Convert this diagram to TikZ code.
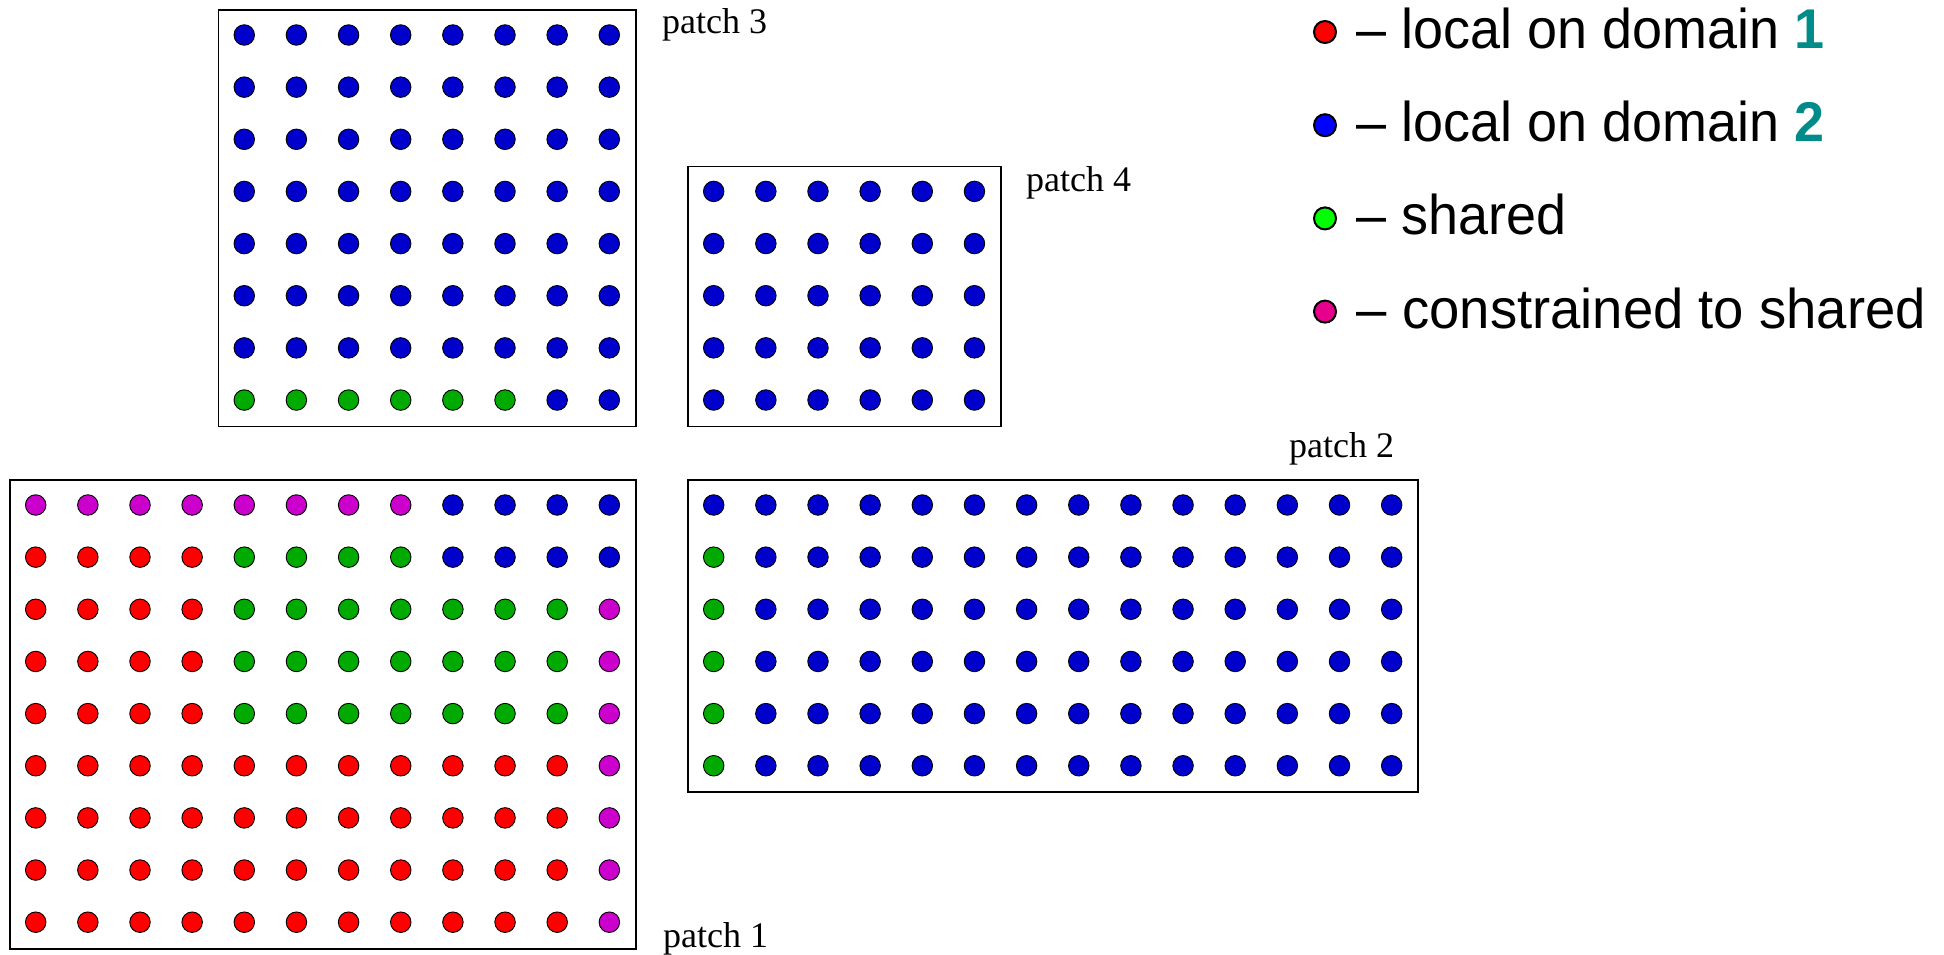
\documentclass[tikz,border=0pt]{standalone}
\usepackage{graphicx}
\usepackage{fontspec}
\setmainfont{Liberation Serif}
\setsansfont{Liberation Sans}
\definecolor{cR}{HTML}{FF0000}
\definecolor{cB}{HTML}{0000CC}
\definecolor{cG}{HTML}{00AA00}
\definecolor{cM}{HTML}{CC00CC}
\definecolor{lR}{HTML}{FF0000}
\definecolor{lB}{HTML}{0000FF}
\definecolor{lG}{HTML}{00FF00}
\definecolor{lM}{HTML}{E6008C}
\definecolor{numteal}{HTML}{008B8B}
\begin{document}
\begin{tikzpicture}[x=1pt,y=-1pt,
  dot/.style={circle,draw=black,line width=0.9pt,minimum size=20.5pt,inner sep=0pt},
  legdot/.style={circle,draw=black,line width=2pt,minimum size=22pt,inner sep=0pt},
  patchbox/.style={draw=black,line width=1.1pt},
  patchlabel/.style={anchor=base west,inner sep=0pt,font=\fontsize{36}{42}\selectfont},
  legtext/.style={anchor=base west,inner sep=0pt,font=\sffamily\fontsize{56}{64}\selectfont}]
\useasboundingbox (0,0) rectangle (1944,955);

% ---------- patch 1 ----------
\draw[patchbox] (10,480) rectangle (636,949);
\foreach \row [count=\j from 0] in {
  {M,M,M,M,M,M,M,M,B,B,B,B},
  {R,R,R,R,G,G,G,G,B,B,B,B},
  {R,R,R,R,G,G,G,G,G,G,G,M},
  {R,R,R,R,G,G,G,G,G,G,G,M},
  {R,R,R,R,G,G,G,G,G,G,G,M},
  {R,R,R,R,R,R,R,R,R,R,R,M},
  {R,R,R,R,R,R,R,R,R,R,R,M},
  {R,R,R,R,R,R,R,R,R,R,R,M},
  {R,R,R,R,R,R,R,R,R,R,R,M}}{
  \foreach \c [count=\i from 0] in \row {
    \node[dot,fill=c\c] (pa-\i-\j) at ({35.7+52.15*\i},{505+52.15*\j}) {};
  }
}
\node[patchlabel] (lab1) at (663,947) {patch 1};

% ---------- patch 2 ----------
\draw[patchbox] (688,480) rectangle (1418,792);
\foreach \j in {0,...,5}{
  \foreach \i in {0,...,13}{
    \ifnum\i=0 \ifnum\j>0 \def\cc{G}\else\def\cc{B}\fi\else\def\cc{B}\fi
    \node[dot,fill=c\cc] (pb-\i-\j) at ({713.7+52.15*\i},{505+52.15*\j}) {};
  }
}
\node[patchlabel] (lab2) at (1289,457) {patch 2};

% ---------- patch 3 ----------
\draw[patchbox] (218.5,10) rectangle (636,426.5);
\foreach \j in {0,...,7}{
  \foreach \i in {0,...,7}{
    \ifnum\j=7 \ifnum\i<6 \def\cc{G}\else\def\cc{B}\fi\else\def\cc{B}\fi
    \node[dot,fill=c\cc] (pc-\i-\j) at ({244.25+52.15*\i},{35+52.15*\j}) {};
  }
}
\node[patchlabel] (lab3) at (662,34) {patch 3};

% ---------- patch 4 ----------
\draw[patchbox] (688,166.4) rectangle (1001,426.5);
\foreach \j in {0,...,4}{
  \foreach \i in {0,...,5}{
    \node[dot,fill=cB] (pd-\i-\j) at ({713.7+52.15*\i},{191.4+52.15*\j}) {};
  }
}
\node[patchlabel] (lab4) at (1026,191.5) {patch 4};

% ---------- legend ----------
\node[legdot,fill=lR] (k1) at (1325,32) {};
\node[legdot,fill=lB] (k2) at (1325,125.2) {};
\node[legdot,fill=lG] (k3) at (1325,218.4) {};
\node[legdot,fill=lM] (k4) at (1325,311.6) {};
\node[legtext] (t1) at (1356.7,48.5) {\scalebox{0.963}[1]{– local on domain \textcolor{numteal}{\bfseries 1}}};
\node[legtext] (t2) at (1356.7,141.7) {\scalebox{0.963}[1]{– local on domain \textcolor{numteal}{\bfseries 2}}};
\node[legtext] (t3) at (1356.7,234.9) {\scalebox{0.963}[1]{– shared}};
\node[legtext] (t4) at (1356.7,328.1) {\scalebox{0.972}[1]{– constrained to shared}};
\end{tikzpicture}
\end{document}
